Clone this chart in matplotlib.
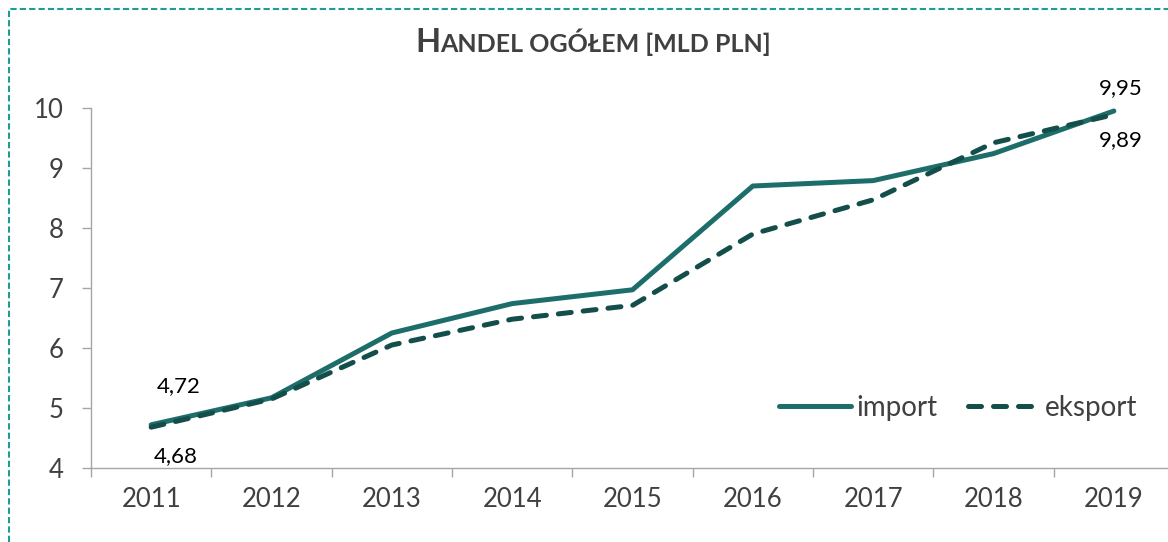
import numpy as np
import matplotlib.pyplot as plt
from matplotlib.lines import Line2D

plt.rcParams['font.family'] = ['Lato', 'DejaVu Sans']

# data
years = ['2011', '2012', '2013', '2014', '2015', '2016', '2017', '2018', '2019']
imp = [4.72, 5.17, 6.25, 6.74, 6.97, 8.70, 8.79, 9.24, 9.95]
eksp = [4.68, 5.15, 6.05, 6.48, 6.71, 7.90, 8.47, 9.42, 9.89]

c_imp = '#1d6e6a'
c_exp = '#144e4b'
c_text = '#404040'

W, H = 1168, 542
fig = plt.figure(figsize=(W / 100, H / 100), dpi=100)
fig.patch.set_facecolor('white')

# axes placed in pixel terms
left, right, bottom, top = 91, 1168, 468, 108
ax = fig.add_axes([left / W, (H - bottom) / H, (right - left) / W, (bottom - top) / H])
ax.set_facecolor('none')

x = np.arange(len(years))
ax.plot(x, imp, color=c_imp, lw=3.6, solid_capstyle='round', label='import', clip_on=False, zorder=3)
ax.plot(x, eksp, color=c_exp, lw=3.6, linestyle=(0, (2.6, 2.4)), dash_capstyle='round',
        label='eksport', clip_on=False, zorder=4)

ax.set_xlim(-0.5, 8.45)
ax.set_ylim(4, 10)

# axes styling
for s in ['top', 'right']:
    ax.spines[s].set_visible(False)
for s in ['left', 'bottom']:
    ax.spines[s].set_color('#a6a6a6')
    ax.spines[s].set_linewidth(1.0)

ax.set_yticks(range(4, 11))
ax.tick_params(axis='y', direction='out', length=6.5, width=1.0, color='#a6a6a6',
               labelsize=18.5, labelcolor=c_text, pad=13)
ax.set_xticks(np.arange(-0.5, 8.0, 1.0))
ax.set_xticklabels([])
ax.tick_params(axis='x', which='major', direction='out', length=6.5, width=1.0, color='#a6a6a6')
ax.set_xticks(x, minor=True)
ax.set_xticklabels(years, minor=True)
ax.tick_params(axis='x', which='minor', length=0, labelsize=18.5, labelcolor=c_text, pad=14)

# data labels (first and last points)
lbl = {'fontsize': 16, 'color': 'black', 'ha': 'center', 'va': 'center', 'textcoords': 'offset pixels'}
ax.annotate('4,72', (x[0], imp[0]), xytext=(28, 39), **lbl)
ax.annotate('4,68', (x[0], eksp[0]), xytext=(25, -29), **lbl)
ax.annotate('9,95', (x[-1], imp[-1]), xytext=(7, 23), **lbl)
ax.annotate('9,89', (x[-1], eksp[-1]), xytext=(7, -25), **lbl)

# legend
leg = ax.legend(loc='center left', bbox_to_anchor=(0.639, 0.167), ncol=2, frameon=False,
                fontsize=20, handlelength=2.6, handletextpad=0.18, columnspacing=1.08,
                borderaxespad=0, borderpad=0)
for t in leg.get_texts():
    t.set_color(c_text)
for h in leg.get_lines():
    h.set_solid_capstyle('round')
    h.set_dash_capstyle('round')

# title in small caps: large H + smaller remainder
fig.canvas.draw()
r = fig.canvas.get_renderer()
t1 = fig.text(0, 0, 'H', fontsize=23.5, fontweight='bold', color=c_text)
t2 = fig.text(0, 0, 'ANDEL OGÓŁEM [MLD PLN]', fontsize=18, fontweight='bold', color=c_text)
w1 = t1.get_window_extent(r).width
w2 = t2.get_window_extent(r).width
x0 = 593 - (w1 + w2) / 2
base = (H - 52) / H
t1.set_position((x0 / W, base))
t2.set_position(((x0 + w1) / W, base))

# dashed frame (left and top edges)
frame = Line2D([8.5 / W, 8.5 / W, 1.0], [0, (H - 8.5) / H, (H - 8.5) / H],
               transform=fig.transFigure, color='#1f9c96', lw=1.5,
               linestyle=(0, (3, 1.5)))
fig.add_artist(frame)

fig.savefig('out.png', dpi=100)
